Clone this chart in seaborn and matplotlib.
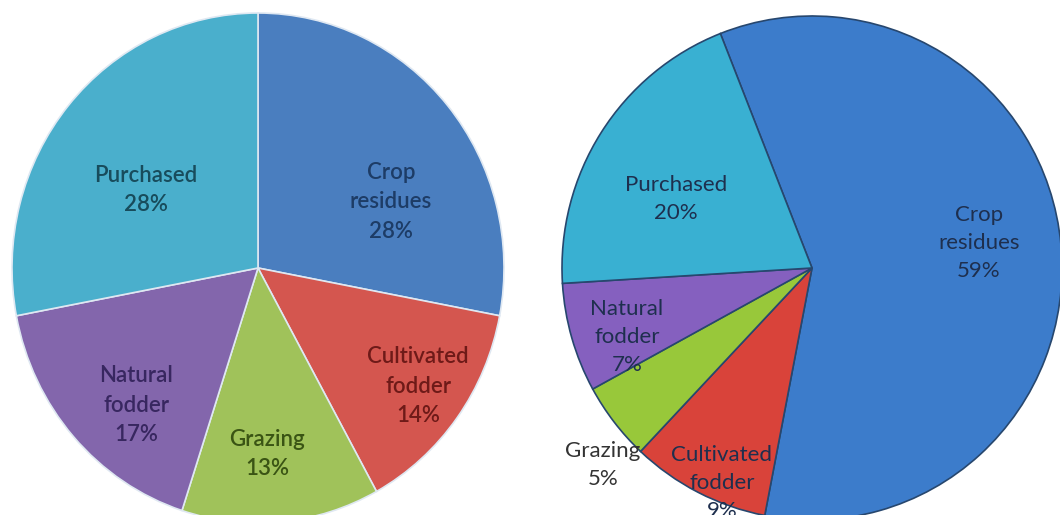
import numpy as np
import matplotlib.pyplot as plt
import seaborn as sns

# feed sources, clockwise from the start angle
sources = ["Crop\nresidues", "Cultivated\nfodder", "Grazing", "Natural\nfodder", "Purchased"]
share_left = [28, 14, 13, 17, 28]
share_right = [59, 9, 5, 7, 20]

colors_left = ["#4a7ebf", "#d4564f", "#a0c25a", "#8366ac", "#4aafcc"]
colors_right = ["#3c7ccb", "#d9433a", "#98c83a", "#8560bf", "#39b0d2"]
text_left = ["#1d3c66", "#6e1a18", "#3a5414", "#382760", "#184c5c"]
text_right = ["#1e2f4e", "#1e2f4e", "#333333", "#1e2f4e", "#1e2f4e"]

sns.set_theme(style="white")
plt.rcParams['font.family'] = ['Lato', 'DejaVu Sans']

W, H = 1060, 515
fig = plt.figure(figsize=(W / 100, H / 100), dpi=100)
fig.patch.set_facecolor("white")


def draw_pie(cx, cy, rx, ry, values, colors, tcolors, start, dists, shifts, edge, weight):
    # axes placed in pixel units, y measured from the top
    ax = fig.add_axes([(cx - rx) / W, (H - cy - ry) / H, 2 * rx / W, 2 * ry / H])
    ax.pie(values, colors=colors, startangle=start, counterclock=False,
           radius=1, wedgeprops=dict(edgecolor=edge, linewidth=1.2))
    total = float(sum(values))
    ang = start
    for v, lab, tc, d, s in zip(values, sources, tcolors, dists, shifts):
        span = 360 * v / total
        mid = np.deg2rad(ang - span / 2 + s)
        ang -= span
        ax.text(d * np.cos(mid), d * np.sin(mid), f"{lab}\n{v}%", ha="center", va="center",
                fontsize=16, color=tc, fontweight=weight, linespacing=1.5)
    ax.set_xlim(-1, 1)
    ax.set_ylim(-1, 1)
    ax.set_aspect("auto")
    ax.axis("off")
    return ax


draw_pie(258, 268, 246, 255, share_left, colors_left, text_left, 90,
         [0.6, 0.8, 0.73, 0.73, 0.55], [-14, 0.5, -2.5, 6, 5.7], "#dfe8f2", "semibold")
draw_pie(812, 268, 250, 252, share_right, colors_right, text_right, 111.5,
         [0.675, 0.926, 1.145, 0.79, 0.61], [3, 4.2, 5.4, 4.2, 5.8], "#27476e", "normal")

plt.savefig("out.png", dpi=100, facecolor="white")
